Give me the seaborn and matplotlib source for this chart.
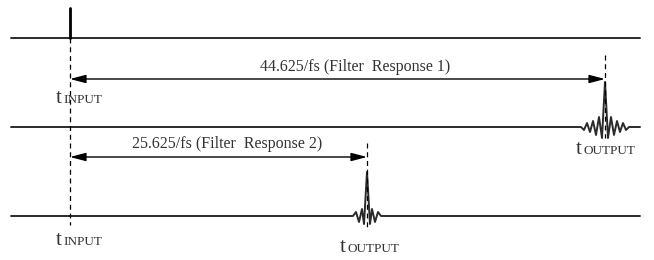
import numpy as np
import pandas as pd
import seaborn as sns
import matplotlib.pyplot as plt

# timing diagram, coordinates in pixels of a 654x260 canvas (y grows downward)
trace_y = [38, 127, 216]
trace_x0, trace_x1 = 11, 640
input_x = 70
impulse_top = 8

output_x = [605, 367]
arrow_y = [79, 157]
delay_labels = ["44.625/fs (Filter  Response 1)", "25.625/fs (Filter  Response 2)"]
delay_label_pos = [(355, 67), (227, 144)]

# half of each filter response (left side, up to the peak), mirrored for the right side
burst1_dx = [-24, -21, -18, -15, -12, -9, -6, -3, 0]
burst1_dy = [0, -3, 4, -5, 6, -8, 10, -11, 45]
burst2_dx = [-14, -11, -8, -5, -3, 0]
burst2_dy = [0, 4, -6, 7, -8, 44]

input_label_pos = [(56, 103), (56, 245)]
output_label_pos = [(576, 154), (340, 252)]

line_color = "#2b2b2b"
text_color = "#333333"


def trace(y0, xo=None, dx=None, dy=None):
    xs, ys = [trace_x0], [y0]
    if xo is not None:
        full_dx = dx + [-d for d in dx[-2::-1]]
        full_dy = dy + dy[-2::-1]
        xs += [xo + d for d in full_dx]
        ys += [y0 - d for d in full_dy]
    xs.append(trace_x1)
    ys.append(y0)
    return pd.DataFrame({"x": xs, "y": ys})


sns.set_style("white")
plt.rcParams["font.family"] = ["Liberation Serif", "DejaVu Serif"]

fig = plt.figure(figsize=(6.54, 2.6), dpi=100)
ax = fig.add_axes([0, 0, 1, 1])

traces = [
    trace(trace_y[0]),
    trace(trace_y[1], output_x[0], burst1_dx, burst1_dy),
    trace(trace_y[2], output_x[1], burst2_dx, burst2_dy),
]
for df in traces:
    sns.lineplot(data=df, x="x", y="y", ax=ax, sort=False, estimator=None,
                 color=line_color, linewidth=1.4)

# input impulse
sns.lineplot(x=[input_x, input_x], y=[impulse_top, trace_y[0]], ax=ax, sort=False,
             estimator=None, color="black", linewidth=2)

# dashed markers
dash = dict(color="black", linewidth=0.9, linestyles=(0, (4, 3)))
ax.vlines(input_x, trace_y[0], trace_y[2] + 9, **dash)
ax.vlines(output_x[0], 55, trace_y[1] + 11, **dash)
ax.vlines(output_x[1], 143, trace_y[2] + 11, **dash)

# delay arrows
for xo, ya, lab, (lx, ly) in zip(output_x, arrow_y, delay_labels, delay_label_pos):
    ax.annotate("", xy=(xo, ya), xytext=(input_x, ya),
                arrowprops=dict(arrowstyle="<|-|>,head_length=0.95,head_width=0.25",
                                color="black", lw=1, shrinkA=0, shrinkB=0,
                                mutation_scale=10))
    ax.text(lx, ly, lab, ha="center", va="center", fontsize=11.5, color=text_color)


def time_label(x, y, sub):
    ax.text(x, y, "t", ha="left", va="baseline", fontsize=15, color=text_color,
            bbox=dict(facecolor="white", edgecolor="none", pad=0.3))
    ax.text(x + 7, y, sub, ha="left", va="baseline", fontsize=9.5, color=text_color)


for x, y in input_label_pos:
    time_label(x, y, "INPUT")
for x, y in output_label_pos:
    time_label(x, y, "OUTPUT")

ax.set_xlim(0, 654)
ax.set_ylim(260, 0)
ax.axis("off")

fig.savefig("out.png", dpi=100)
